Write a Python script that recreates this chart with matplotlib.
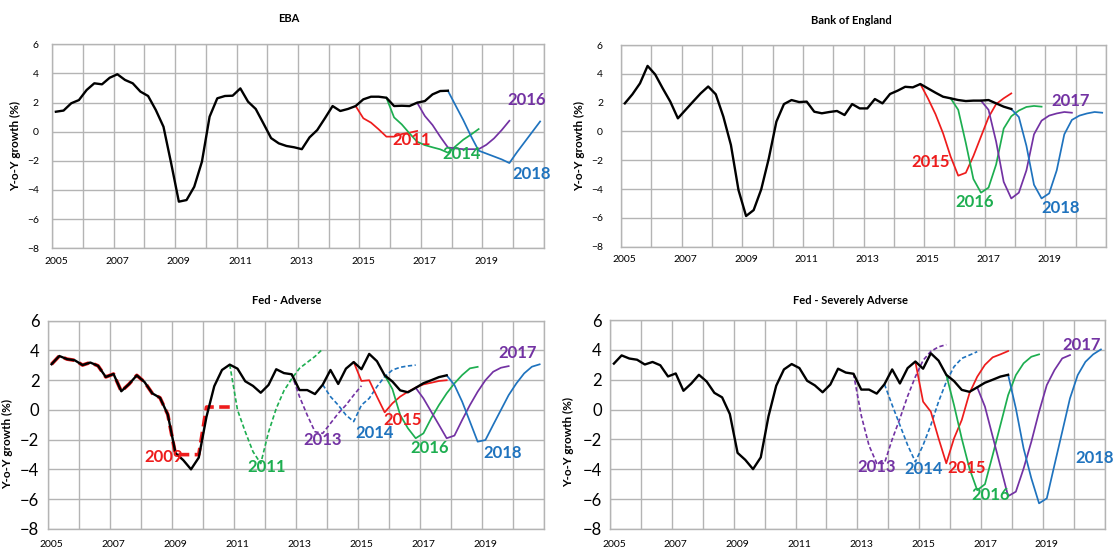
import matplotlib
matplotlib.use('Agg')
import matplotlib.pyplot as plt
import numpy as np

plt.rcParams['font.family'] = ['Lato', 'DejaVu Sans']

# Quarterly Y-o-Y growth (%). Every history starts in 2005Q1;
# each scenario starts at the quarter given in its *_start name.
eba_hist = [1.37, 1.45, 1.95, 2.17, 2.86, 3.32, 3.25, 3.7, 3.94, 3.55, 3.32, 2.75,
            2.45, 1.49, 0.34, -2.17, -4.8, -4.69, -3.78, -2.06, 1.03, 2.29, 2.45, 2.47,
            2.97, 2.06, 1.56, 0.57, -0.44, -0.8, -0.98, -1.07, -1.2, -0.39, 0.11, 0.92,
            1.76, 1.42, 1.56, 1.76, 2.22, 2.4, 2.4, 2.33, 1.76, 1.78, 1.76, 1.99,
            2.1, 2.56, 2.79, 2.81]
eba_2011_start = '2014Q4'
eba_2011 = [1.76, 0.92, 0.62, 0.16, -0.34, -0.34, -0.16, -0.07, 0.05]
eba_2014_start = '2015Q4'
eba_2014 = [2.33, 0.98, 0.5, -0.11, -0.69, -0.92, -1.07, -1.21, -1.44, -1.0, -0.55, -0.2, 0.18]
eba_2016_start = '2016Q4'
eba_2016 = [1.99, 1.08, 0.46, -0.34, -1.08, -1.15, -1.2, -1.2, -1.2, -0.9, -0.46, 0.11, 0.75]
eba_2018_start = '2017Q4'
eba_2018 = [2.81, 1.8, 0.8, -0.3, -1.3, -1.5, -1.7, -1.9, -2.15, -1.4, -0.7, 0.0, 0.7]

boe_hist = [1.95, 2.58, 3.34, 4.55, 3.96, 2.99, 2.07, 0.91, 1.49, 2.07, 2.64, 3.12,
            2.58, 1.03, -0.94, -4.07, -5.87, -5.46, -4.02, -1.87, 0.68, 1.9, 2.18, 2.04,
            2.07, 1.37, 1.26, 1.35, 1.42, 1.14, 1.9, 1.6, 1.6, 2.25, 1.95, 2.6,
            2.83, 3.1, 3.06, 3.29, 2.99, 2.69, 2.41, 2.3, 2.18, 2.11, 2.14, 2.14,
            2.18, 1.95, 1.72, 1.56]
boe_2015_start = '2014Q4'
boe_2015 = [3.29, 2.3, 1.2, -0.13, -1.75, -3.07, -2.87, -1.71, -0.36, 0.98, 1.9, 2.3, 2.64]
boe_2016_start = '2015Q4'
boe_2016 = [2.3, 1.5, -0.8, -3.3, -4.25, -3.9, -2.3, 0.2, 1.05, 1.45, 1.7, 1.77, 1.72]
boe_2017_start = '2016Q4'
boe_2017 = [2.14, 1.5, -0.7, -3.5, -4.65, -4.25, -2.7, -0.2, 0.75, 1.1, 1.25, 1.35, 1.3]
boe_2018_start = '2017Q4'
boe_2018 = [1.56, 1.0, -1.0, -3.7, -4.65, -4.3, -2.7, -0.2, 0.8, 1.1, 1.25, 1.35, 1.3]

fed_hist = [3.08, 3.63, 3.42, 3.34, 3.02, 3.19, 2.97, 2.22, 2.42, 1.26, 1.74, 2.33,
            1.88, 1.12, 0.82, -0.3, -2.9, -3.37, -3.99, -3.2, -0.45, 1.6, 2.69, 3.05,
            2.78, 1.93, 1.62, 1.16, 1.68, 2.74, 2.48, 2.4, 1.34, 1.34, 1.07, 1.7,
            2.69, 1.75, 2.78, 3.22, 2.74, 3.77, 3.28, 2.33, 1.91, 1.32, 1.19, 1.49,
            1.8, 2.0, 2.21, 2.33]

# Fed - Adverse
adv_2009_start = '2005Q1'
adv_2009 = fed_hist[:16] + [-3.0, -3.0, -3.0, -3.0, 0.2, 0.2, 0.2, 0.2]
adv_2011_start = '2010Q4'
adv_2011 = [3.05, 0.0, -1.46, -2.8, -3.6, -1.5, 0.1, 1.3, 2.1, 2.8, 3.2, 3.6, 4.1]
adv_2013_start = '2012Q4'
adv_2013 = [2.4, 0.9, -0.34, -1.46, -1.57, -0.9, -0.23, 0.33, 1.0, 1.63]
adv_2014_start = '2013Q4'
adv_2014 = [1.7, 0.9, 0.33, -0.34, -0.78, 0.33, 0.78, 1.57, 2.24, 2.69, 2.87, 2.96, 3.02]
adv_2015_start = '2014Q4'
adv_2015 = [3.22, 1.95, 2.0, 0.9, -0.16, 0.45, 0.9, 1.23, 1.5, 1.72, 1.83, 1.95, 2.0]
adv_2016_start = '2015Q4'
adv_2016 = [2.33, 1.4, -0.34, -1.23, -1.9, -1.57, -0.56, 0.33, 1.12, 1.79, 2.35, 2.8, 2.9]
adv_2017_start = '2016Q4'
adv_2017 = [1.49, 0.78, -0.11, -1.0, -1.9, -1.72, -0.67, 0.33, 1.23, 2.0, 2.57, 2.84, 2.95]
adv_2018_start = '2017Q4'
adv_2018 = [2.33, 1.68, 0.56, -0.78, -2.13, -2.02, -1.0, 0.0, 1.0, 1.79, 2.46, 2.91, 3.07]

# Fed - Severely Adverse
sev_2013_start = '2012Q4'
sev_2013 = [2.4, -0.4, -2.4, -3.6, -3.6, -2.0, -0.6, 0.9, 2.2, 3.3, 3.9, 4.2, 4.35]
sev_2014_start = '2013Q4'
sev_2014 = [1.7, 0.3, -1.04, -2.38, -3.5, -2.38, -1.04, 0.53, 1.86, 2.87, 3.43, 3.65, 3.88]
sev_2015_start = '2014Q4'
sev_2015 = [3.2, 0.53, -0.14, -1.93, -3.6, -1.93, -0.7, 1.1, 2.2, 3.0, 3.5, 3.7, 3.92]
sev_2016_start = '2015Q4'
sev_2016 = [2.33, 0.3, -1.94, -3.95, -5.4, -5.0, -3.05, -1.04, 0.97, 2.31, 3.1, 3.54, 3.7]
sev_2017_start = '2016Q4'
sev_2017 = [1.49, 0.2, -1.8, -3.8, -5.8, -5.5, -3.95, -2.16, -0.15, 1.64, 2.65, 3.43, 3.65]
sev_2018_start = '2017Q4'
sev_2018 = [2.33, 0.08, -2.6, -4.6, -6.28, -5.95, -3.7, -1.48, 0.75, 2.31, 3.2, 3.7, 4.03]

year_labels = ['2005', '2007', '2009', '2011', '2013', '2015', '2017', '2019']

RED = '#ee1c1c'
GREEN = '#1dae50'
PURPLE = '#7332a3'
BLUE = '#1f73be'
GRID = '#b4b4b4'


def quarter_x(start, n):
    """x position (in years) of n quarterly points, centred in each quarter."""
    year, q = start.split('Q')
    first = (int(year) - 2005) * 4 + int(q) - 1
    return 2005 + (np.arange(first, first + n) + 0.5) / 4


# (title, axes rect, title xy, ylabel xy, y tick size, ylabel size, history,
#  [(start, values, colour, dashed, label, label xy)])
panels = [
    ('EBA', [0.0467, 0.551, 0.4416, 0.369], (289, 19), (16, 146), 7.5, 8.5, eba_hist, [
        (eba_2011_start, eba_2011, RED, False, '2011', (2016.69, -0.57)),
        (eba_2014_start, eba_2014, GREEN, False, '2014', (2018.31, -1.53)),
        (eba_2016_start, eba_2016, PURPLE, False, '2016', (2020.42, 2.17)),
        (eba_2018_start, eba_2018, BLUE, False, '2018', (2020.6, -2.9)),
    ]),
    ('Bank of England', [0.5575, 0.5539, 0.4353, 0.3647], (851, 20), (580, 146), 7.5, 8.5, boe_hist, [
        (boe_2015_start, boe_2015, RED, False, '2015', (2015.22, -2.15)),
        (boe_2016_start, boe_2016, GREEN, False, '2016', (2016.67, -4.88)),
        (boe_2017_start, boe_2017, PURPLE, False, '2017', (2019.84, 2.11)),
        (boe_2018_start, boe_2018, BLUE, False, '2018', (2019.51, -5.34)),
    ]),
    ('Fed - Adverse', [0.0428, 0.0434, 0.4451, 0.3766], (287, 301), (8, 444), 12, 8.5, fed_hist, [
        (adv_2009_start, adv_2009, RED, 'thick', '2009', (2008.73, -3.14)),
        (adv_2011_start, adv_2011, GREEN, True, '2011', (2012.06, -3.86)),
        (adv_2013_start, adv_2013, PURPLE, True, '2013', (2013.86, -2.02)),
        (adv_2014_start, adv_2014, BLUE, True, '2014', (2015.56, -1.57)),
        (adv_2015_start, adv_2015, RED, False, '2015', (2016.45, -0.67)),
        (adv_2016_start, adv_2016, GREEN, False, '2016', (2017.33, -2.57)),
        (adv_2017_start, adv_2017, PURPLE, False, '2017', (2020.18, 3.8)),
        (adv_2018_start, adv_2018, BLUE, False, '2018', (2019.68, -2.91)),
    ]),
    ('Fed - Severely Adverse', [0.5476, 0.0434, 0.4441, 0.3779], (850, 301), (569, 442), 12, 8.5, fed_hist, [
        (sev_2013_start, sev_2013, PURPLE, True, '2013', (2013.63, -3.82)),
        (sev_2014_start, sev_2014, BLUE, True, '2014', (2015.14, -4.0)),
        (sev_2015_start, sev_2015, RED, False, '2015', (2016.54, -3.94)),
        (sev_2016_start, sev_2016, GREEN, False, '2016', (2017.32, -5.73)),
        (sev_2017_start, sev_2017, PURPLE, False, '2017', (2020.25, 4.32)),
        (sev_2018_start, sev_2018, BLUE, False, '2018', (2020.66, -3.23)),
    ]),
]

W, H = 1114, 553
fig = plt.figure(figsize=(W / 100, H / 100), dpi=100)

for title, rect, title_xy, ylab_xy, ytick_size, ylab_size, hist, scenarios in panels:
    ax = fig.add_axes(rect)
    ax.set_xlim(2005, 2021)
    ax.set_ylim(-8, 6)
    ax.set_xticks(range(2005, 2022))
    ax.set_xticklabels([])
    ax.set_xticks([int(y) + 0.125 for y in year_labels], year_labels, minor=True)
    ax.set_yticks(range(-8, 7, 2))
    ax.grid(True, which='major', color=GRID, lw=1.0)
    ax.set_axisbelow(True)
    for sp in ax.spines.values():
        sp.set_color(GRID)
        sp.set_linewidth(1.0)
    big = ytick_size > 10
    ax.tick_params(which='both', length=0)
    ax.tick_params(axis='x', which='minor', labelsize=7.5, pad=8 if big else 6)
    ax.tick_params(axis='y', labelsize=ytick_size, pad=6 if big else (13 if rect[0] > 0.5 else 9.5))

    for start, vals, color, dashed, label, lxy in scenarios:
        x = quarter_x(start, len(vals))
        if dashed == 'thick':
            ax.plot(x, vals, color=color, lw=2.6, dashes=(3, 1.5), zorder=2.5)
        elif dashed:
            ax.plot(x, vals, color=color, lw=1.2, dashes=(2.6, 1.5), zorder=2)
        else:
            ax.plot(x, vals, color=color, lw=1.25, zorder=2)
        ax.text(lxy[0], lxy[1], label, color=color, fontsize=12, fontweight='bold',
                ha='center', va='center', zorder=4)

    ax.plot(quarter_x('2005Q1', len(hist)), hist, color='black', lw=1.7, zorder=3)

    fig.text(title_xy[0] / W, 1 - title_xy[1] / H, title, ha='center', va='center',
             fontsize=8, fontweight='bold')
    fig.text(ylab_xy[0] / W, 1 - ylab_xy[1] / H, 'Y-o-Y growth (%)', rotation=90,
             ha='center', va='center', fontsize=ylab_size, fontweight='bold')

fig.savefig('out.png', dpi=100, facecolor='white')
